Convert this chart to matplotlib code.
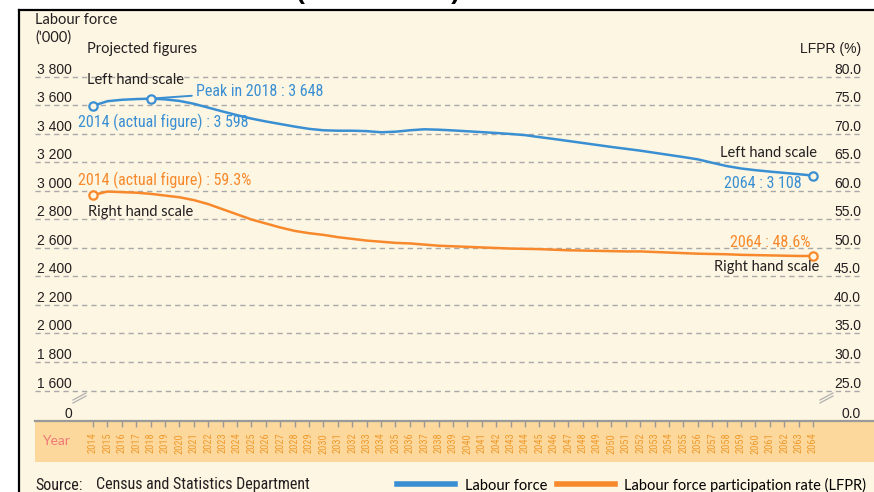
"Labour force and LFPR projections, 2014-2064"

import matplotlib
matplotlib.use("Agg")
import matplotlib.pyplot as plt
import matplotlib.transforms as mtransforms
from matplotlib import font_manager
from matplotlib.lines import Line2D
from matplotlib.patches import Rectangle

# data
years = list(range(2014, 2065))

labour_force = [3598, 3630, 3640, 3645, 3648, 3643, 3632, 3612, 3585, 3558,
                3532, 3508, 3488, 3470, 3452, 3436, 3426, 3423, 3423, 3420,
                3412, 3416, 3426, 3433, 3430, 3425, 3419, 3413, 3407, 3400,
                3392, 3378, 3365, 3351, 3337, 3323, 3309, 3296, 3283, 3268,
                3253, 3238, 3222, 3198, 3175, 3158, 3146, 3136, 3127, 3118,
                3108]

lfpr = [59.3, 59.9, 59.8, 59.7, 59.5, 59.2, 58.9, 58.4, 57.7, 56.8,
        55.9, 55.0, 54.3, 53.6, 53.0, 52.6, 52.3, 51.9, 51.6, 51.3,
        51.1, 50.9, 50.8, 50.6, 50.4, 50.3, 50.2, 50.1, 50.0, 49.9,
        49.85, 49.8, 49.7, 49.6, 49.55, 49.5, 49.45, 49.4, 49.4, 49.3,
        49.2, 49.1, 49.0, 48.95, 48.9, 48.8, 48.75, 48.7, 48.65, 48.6,
        48.6]

lf_ticks = [1600, 1800, 2000, 2200, 2400, 2600, 2800, 3000, 3200, 3400, 3600, 3800]
lfpr_ticks = [25.0, 30.0, 35.0, 40.0, 45.0, 50.0, 55.0, 60.0, 65.0, 70.0, 75.0, 80.0]

# colours
CREAM = "#fdf6e3"
BAND = "#fcd89c"
BLUE = "#3a8fd3"
ORANGE = "#f7892c"
DARK = "#231f20"
GRID = "#a9a9a9"
YEARCOL = "#ef9a2c"

# fonts
avail = {f.name for f in font_manager.fontManager.ttflist}


def pick(*names):
    for n in names:
        if n in avail:
            return n
    return "DejaVu Sans"


narrow = pick("Liberation Sans Narrow", "Roboto Condensed", "Liberation Sans")
sans = pick("Liberation Sans", "DejaVu Sans")
myriad = pick("Lato", "Noto Sans", "DejaVu Sans")

W, H = 874, 492
fig = plt.figure(figsize=(W / 100, H / 100), dpi=100)
fig.patch.set_facecolor("white")


def fx(px):
    return px / W


def fy(py):
    return 1 - py / H


# background panel, year band, border
fig.add_artist(Rectangle((fx(19), 0), 1 - fx(19), fy(11), transform=fig.transFigure,
                         facecolor=CREAM, edgecolor="none", zorder=-3))
fig.add_artist(Rectangle((fx(35), fy(462)), 1 - fx(35), fy(421) - fy(462),
                         transform=fig.transFigure, facecolor=BAND, edgecolor="none", zorder=-2))
fig.add_artist(Line2D([fx(35), 1], [fy(421), fy(421)], transform=fig.transFigure,
                      color="#9a9a9a", lw=1.6, zorder=-1))
fig.add_artist(Line2D([fx(18.5), fx(18.5)], [0, fy(10)], transform=fig.transFigure,
                      color="black", lw=1.6))
fig.add_artist(Line2D([fx(18.5), 1], [fy(10), fy(10)], transform=fig.transFigure,
                      color="black", lw=1.6))

# title above the panel, cut off by the top edge as in the source image
fig.text(fx(378), fy(-1), "(2014 – 2064)", ha="center", va="baseline",
         fontsize=19, fontweight="bold", color="black", family=sans)

# axes
ax = fig.add_axes([fx(35), fy(421), fx(860) - fx(35), fy(11) - fy(421)])
ax.set_facecolor("none")
ax.set_xlim(2009.97, 2067.26)
ax.set_ylim(1386, 4263)
ax2 = ax.twinx()
ax2.set_ylim(25 + (1386 - 1600) / 40, 25 + (4263 - 1600) / 40)

for a in (ax, ax2):
    for s in a.spines.values():
        s.set_visible(False)
    a.set_yticks([])

ax.set_xticks(years)
ax.set_xticklabels([str(y) for y in years], rotation=90, fontsize=7.5,
                   color=YEARCOL, family=narrow)
ax.tick_params(axis="x", length=4.5, width=1, color="#999999", pad=4)

# gridlines + tick labels sitting on them
lab_off = mtransforms.ScaledTranslation(0, 3 / 100, fig.dpi_scale_trans)
tl = mtransforms.blended_transform_factory(ax.transAxes, ax.transData) + lab_off
tr = mtransforms.blended_transform_factory(ax2.transAxes, ax2.transData) + lab_off
for v in lf_ticks:
    ax.axhline(v, color=GRID, lw=1, ls=(0, (3.8, 2.9)), zorder=1)
    ax.text(0.0449, v, f"{v:,}".replace(",", " "), transform=tl, ha="right",
            va="baseline", fontsize=10, color=DARK, family=sans)
for v in lfpr_ticks:
    ax2.text(1.0012, v, f"{v:.1f}", transform=tr, ha="right", va="baseline",
             fontsize=10, color=DARK, family=sans)
ax.text(0.0449, ax.get_ylim()[0], "0", transform=tl, ha="right", va="baseline",
        fontsize=10, color=DARK, family=sans)
ax2.text(1.0012, ax2.get_ylim()[0], "0.0", transform=tr, ha="right", va="baseline",
         fontsize=10, color=DARK, family=sans)

# axis break marks
for x0 in (73, 820):
    for d in (0, 3):
        fig.add_artist(Line2D([fx(x0), fx(x0 + 13)], [fy(403 - d), fy(396 - d)],
                              transform=fig.transFigure, color="#b0b0b0", lw=0.9))

# series
ax.plot(years, labour_force, color=BLUE, lw=1.8, zorder=4, marker="o",
        markevery=[0, 4, len(years) - 1], ms=6, mfc=CREAM, mec=BLUE, mew=1.6)
ax2.plot(years, lfpr, color=ORANGE, lw=1.8, zorder=4, marker="o",
         markevery=[0, len(years) - 1], ms=6, mfc=CREAM, mec=ORANGE, mew=1.6)


# annotations (pixel placed)
def ftext(x, y, s, **kw):
    kw.setdefault("va", "center")
    kw.setdefault("color", DARK)
    fig.text(fx(x), fy(y), s, **kw)


ftext(35, 20, "Labour force", fontsize=10.5, family=myriad)
ftext(35, 38, "('000)", fontsize=10.5, family=myriad)
ftext(87, 49, "Projected figures", fontsize=10.5, family=myriad)
ftext(861, 49, "LFPR (%)", ha="right", fontsize=10, family=sans)
ftext(87, 80, "Left hand scale", fontsize=10.5, family=myriad)
ftext(88, 212, "Right hand scale", fontsize=10.5, family=myriad)
ftext(817, 153, "Left hand scale", ha="right", fontsize=10.5, family=myriad)
ftext(819, 267, "Right hand scale", ha="right", fontsize=10.5, family=myriad)

ax.annotate("Peak in 2018 : 3 648", xy=(2018, labour_force[4]),
            xytext=(fx(196), fy(91)), textcoords="figure fraction",
            va="center", ha="left", fontsize=11.5, color=BLUE, family=narrow,
            arrowprops=dict(arrowstyle="-", color=BLUE, lw=1.4,
                            shrinkA=1, shrinkB=3))
ftext(78, 122.5, "2014 (actual figure) : 3 598", fontsize=11.5, color=BLUE, family=narrow)
ftext(802, 183, "2064 : 3 108", ha="right", fontsize=11.5, color=BLUE, family=narrow)
ftext(78, 180, "2014 (actual figure) : 59.3%", fontsize=11.5, color=ORANGE, family=narrow)
ftext(810, 242, "2064 : 48.6%", ha="right", fontsize=11.5, color=ORANGE, family=narrow)

ftext(42, 441, "Year", fontsize=10, color="#f07878", family=myriad)
ftext(35, 485, "Source:", fontsize=11.5, family=narrow)
ftext(96, 485, "Census and Statistics Department", fontsize=11.5, family=narrow)

handles = [Line2D([], [], color=BLUE, lw=4), Line2D([], [], color=ORANGE, lw=4)]
fig.legend(handles, ["Labour force", "Labour force participation rate (LFPR)"],
           loc="center left", bbox_to_anchor=(fx(397), fy(485)), ncol=2,
           frameon=False, prop={"family": myriad, "size": 10.5},
           handlelength=4.0, handletextpad=0.65, columnspacing=0.65,
           borderpad=0, borderaxespad=0)

fig.savefig("out.png", dpi=100, facecolor=fig.get_facecolor())
